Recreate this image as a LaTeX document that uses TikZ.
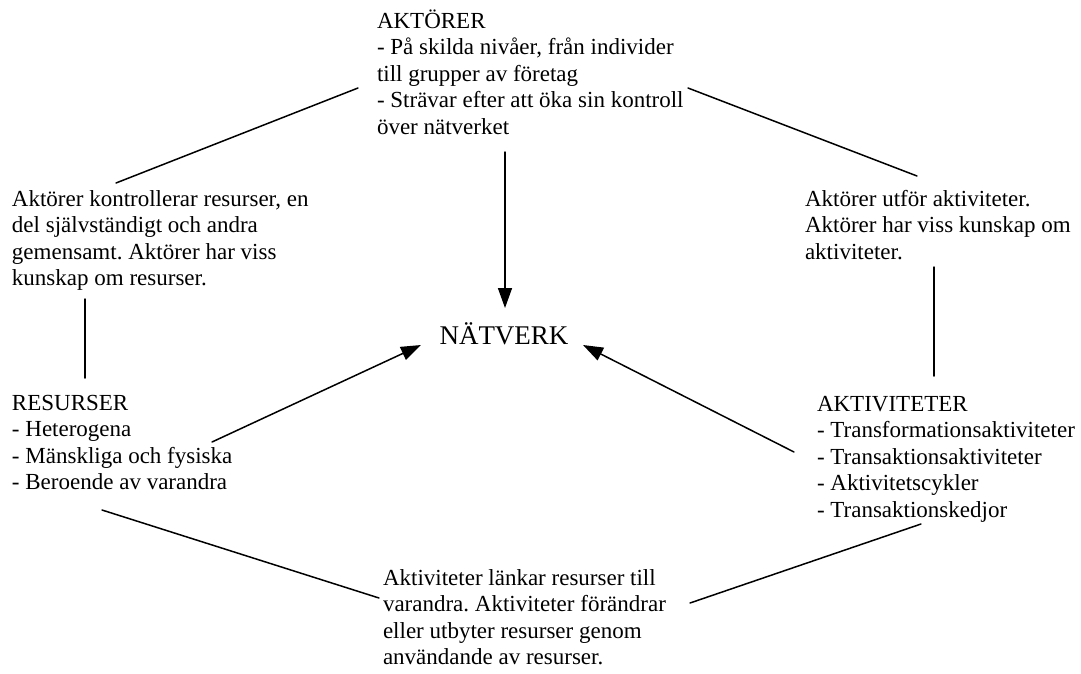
\documentclass[tikz,border=0pt]{standalone}
\usepackage{fontspec}
\setmainfont{Liberation Serif}
\usetikzlibrary{arrows.meta}

\tikzset{
  txt/.style={anchor=base west, inner sep=0pt, outer sep=0pt,
              font=\fontsize{23}{26.5}\selectfont\frenchspacing},
  link/.style={line width=1.5pt, line cap=round},
  arr/.style={link, -{Triangle[length=20pt, width=14pt]}},
}
\newcommand{\txtlines}[1]{\begin{tabular}[t]{@{}l@{}}#1\end{tabular}}

\begin{document}
\begin{tikzpicture}[x=1pt, y=-1pt]
  \useasboundingbox (0,0) rectangle (1081,673);

  % text blocks
  \node[txt] (akt) at (377,28) {\txtlines{AKTÖRER\\
    - På skilda nivåer, från individer\\
    till grupper av företag\\
    - Strävar efter att öka sin kontroll\\
    över nätverket}};
  \node[txt] (kontr) at (12,206) {\txtlines{Aktörer kontrollerar resurser, en\\
    del självständigt och andra\\
    gemensamt. Aktörer har viss\\
    kunskap om resurser.}};
  \node[txt] (utfor) at (805,206) {\txtlines{Aktörer utför aktiviteter.\\
    Aktörer har viss kunskap om\\
    aktiviteter.}};
  \node[txt] (res) at (12,410) {\txtlines{RESURSER\\
    - Heterogena\\
    - Mänskliga och fysiska\\
    - Beroende av varandra}};
  \node[txt] (aktiv) at (817,411) {\txtlines{AKTIVITETER\\
    - Transformationsaktiviteter\\
    - Transaktionsaktiviteter\\
    - Aktivitetscykler\\
    - Transaktionskedjor}};
  \node[txt] (lank) at (383,585) {\txtlines{Aktiviteter länkar resurser till\\
    varandra. Aktiviteter förändrar\\
    eller utbyter resurser genom\\
    användande av resurser.}};
  \node[anchor=base, inner sep=0pt, font=\fontsize{27}{30}\selectfont]
    (nat) at (504,344) {NÄTVERK};

  % end points of the connectors
  \coordinate (aktW)   at (358,88);
  \coordinate (aktE)   at (688,88);
  \coordinate (aktS)   at (505,152);
  \coordinate (kontrN) at (116,183);
  \coordinate (kontrS) at (85,299);
  \coordinate (utforN) at (917,176);
  \coordinate (utforS) at (934,267);
  \coordinate (resN)   at (85,378);
  \coordinate (resE)   at (212,442);
  \coordinate (resS)   at (102,510);
  \coordinate (aktivN) at (934,376);
  \coordinate (aktivW) at (794,452);
  \coordinate (aktivS) at (921,524);
  \coordinate (lankW)  at (379,598);
  \coordinate (lankE)  at (690,603);
  \coordinate (natN)   at (505,308);
  \coordinate (natW)   at (421,345);
  \coordinate (natE)   at (583,345);

  % plain links between the blocks
  \draw[link] (aktW) -- (kontrN);
  \draw[link] (aktE) -- (utforN);
  \draw[link] (kontrS) -- (resN);
  \draw[link] (utforS) -- (aktivN);
  \draw[link] (resS) -- (lankW);
  \draw[link] (lankE) -- (aktivS);

  % arrows into the network
  \draw[arr] (aktS) -- (natN);
  \draw[arr] (resE) -- (natW);
  \draw[arr] (aktivW) -- (natE);
\end{tikzpicture}
\end{document}
